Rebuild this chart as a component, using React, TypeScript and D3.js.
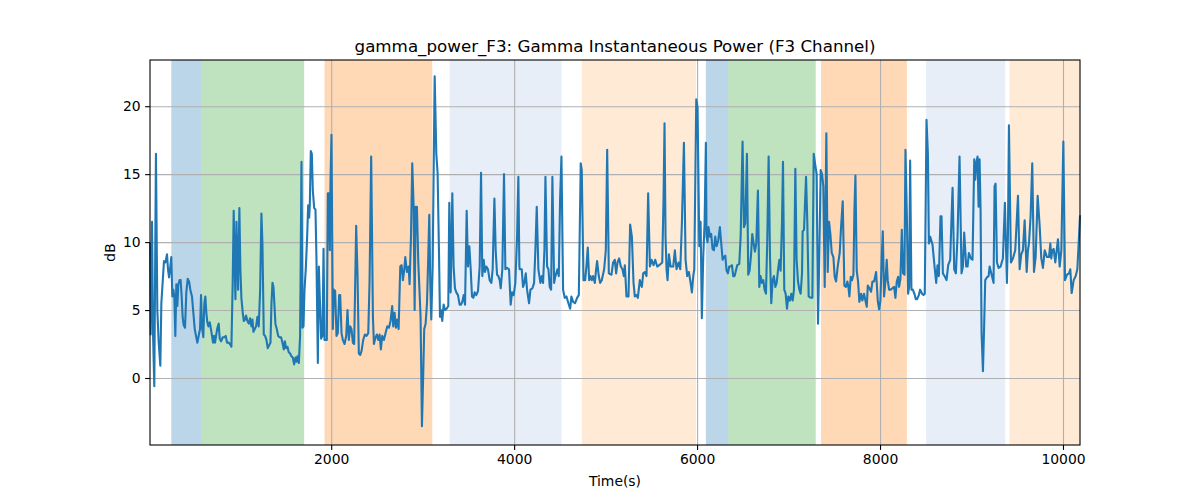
// Gamma instantaneous power trace (F3) with condition bands behind it.
// D3 computes scales, axes and the line path; React only hosts the <svg>.

import { useRef, useEffect } from "react";
import * as d3 from "d3";

const W = 1200;
const H = 500;
const MARGIN = { top: 60, right: 120, bottom: 55, left: 150 };

// ─── Data (time in s, power in dB) ───────────────────────────────────────────

const TIME_A = [
  19, 26, 41, 52, 66, 84, 99, 114, 132, 143, 157, 172, 187, 205, 216, 227, 238, 252, 263, 274,
  285, 296, 307, 318, 329, 343, 354, 365, 376, 387, 402, 416, 431, 446, 460, 478, 493, 508, 522, 537,
  551, 566, 577, 588, 602, 613, 624, 635, 646, 657, 672, 683, 697, 708, 719, 730, 741, 756, 770, 781,
  796, 814, 832, 847, 861, 880, 894, 909, 923, 934, 945, 953, 964, 974, 982, 996, 1007, 1018, 1033, 1044,
  1058, 1069, 1084, 1099, 1113, 1128, 1139, 1150, 1164, 1179, 1193, 1208, 1223, 1237, 1248, 1263, 1277, 1292, 1306, 1321,
  1336, 1347, 1358, 1369, 1380, 1390, 1405, 1420, 1434, 1452, 1467, 1482, 1493, 1507, 1522, 1536, 1551, 1565, 1580, 1595,
  1609, 1620, 1631, 1646, 1660, 1675, 1686, 1697, 1708, 1722, 1737, 1748, 1759, 1766, 1777, 1788, 1799, 1814, 1828, 1839,
  1854, 1865, 1876, 1890, 1905, 1916, 1927, 1941, 1952, 1963, 1974, 1985, 1992, 2003, 2018, 2029, 2043, 2058, 2072, 2087,
];
const DB_A = [
  9.9, 3.2, 11.5, 3.3, -0.6, 16.5, 5.0, 2.6, 0.9, 5.5, 7.0, 8.6, 8.5, 9.1, 8.0, 7.4, 8.0, 8.9, 6.0, 6.5,
  6.0, 3.1, 6.9, 5.3, 6.9, 7.2, 7.2, 6.0, 4.5, 3.9, 3.7, 6.3, 7.3, 7.1, 6.5, 6.0, 4.8, 3.6, 3.1, 2.6,
  3.1, 3.6, 6.1, 3.7, 3.0, 5.5, 6.0, 4.8, 4.1, 3.8, 4.1, 3.7, 3.1, 2.6, 3.1, 2.6, 3.1, 3.7, 4.0, 2.9,
  2.7, 3.0, 3.0, 3.1, 2.6, 2.6, 2.5, 2.3, 7.0, 12.3, 8.2, 5.8, 11.5, 8.5, 6.5, 12.5, 8.0, 5.9, 4.8, 4.2,
  4.3, 4.6, 4.2, 4.0, 4.4, 3.8, 4.3, 3.4, 3.6, 3.8, 4.5, 3.8, 6.5, 12.1, 9.9, 3.2, 3.1, 2.8, 2.2, 2.4,
  2.6, 5.5, 7.0, 6.7, 5.3, 4.0, 3.6, 3.1, 3.0, 3.0, 2.6, 2.1, 2.7, 2.2, 2.3, 1.9, 1.8, 1.6, 1.5, 1.0,
  1.5, 1.2, 1.6, 1.1, 3.1, 15.9, 3.7, 3.8, 6.5, 8.0, 10.4, 12.7, 11.8, 12.7, 16.7, 16.5, 13.8, 12.5, 12.4, 8.7,
  1.1, 8.2, 5.8, 2.9, 3.1, 9.5, 2.8, 2.8, 2.8, 13.6, 13.6, 9.4, 14.3, 17.9, 3.6, 6.5, 6.4, 3.1, 3.3, 6.1,
];

const TIME_B = [
  2098, 2113, 2127, 2146, 2164, 2178, 2193, 2208, 2222, 2237, 2251, 2273, 2288, 2302, 2317, 2332, 2350, 2368, 2386, 2405,
  2419, 2437, 2456, 2467, 2481, 2499, 2514, 2529, 2543, 2558, 2576, 2594, 2613, 2631, 2649, 2667, 2678, 2693, 2707, 2722,
  2737, 2755, 2769, 2784, 2799, 2810, 2828, 2846, 2857, 2872, 2886, 2901, 2912, 2923, 2937, 2952, 2966, 2977, 2992, 3007,
  3017, 3032, 3047, 3061, 3072, 3083, 3094, 3109, 3131, 3149, 3163, 3178, 3189, 3200, 3214, 3229, 3244, 3262, 3280, 3291,
  3306, 3324, 3338, 3353, 3368, 3386, 3404, 3419, 3433, 3448, 3463, 3481, 3495, 3510, 3525, 3539, 3554, 3568, 3586, 3605,
  3623, 3638, 3652, 3667, 3681, 3696, 3714, 3732, 3751, 3765, 3784, 3798, 3813, 3827, 3842, 3853, 3871, 3889, 3904, 3922,
  3944, 3962, 3977, 3995, 4013, 4032, 4046, 4057,
];
const DB_B = [
  6.1, 3.3, 2.8, 2.5, 3.1, 5.0, 2.8, 3.8, 3.6, 2.6, 2.5, 11.2, 7.5, 1.8, 1.7, 2.0, 2.8, 3.2, 3.1, 3.3,
  7.0, 16.3, 4.5, 2.5, 2.9, 3.2, 2.8, 3.2, 2.1, 3.1, 2.8, 3.3, 3.8, 3.7, 4.2, 5.3, 3.8, 4.8, 3.7, 4.3,
  3.6, 8.2, 8.3, 7.2, 8.0, 8.9, 7.8, 8.2, 6.9, 10.4, 15.8, 12.6, 5.0, 12.6, 12.6, 8.5, 6.3, 4.5, -3.55, 0.6,
  3.6, 4.0, 5.5, 8.9, 12.0, 7.0, 4.3, 8.2, 22.2, 16.5, 15.1, 9.4, 4.5, 5.0, 4.2, 5.4, 5.0, 5.1, 5.3, 12.9,
  6.3, 13.6, 8.2, 6.6, 6.3, 6.1, 5.4, 5.4, 5.6, 6.1, 5.4, 12.3, 8.2, 9.7, 8.0, 6.0, 5.9, 6.3, 6.1, 6.4,
  8.2, 15.1, 7.5, 8.7, 7.8, 8.2, 8.0, 7.2, 7.0, 8.0, 13.2, 9.4, 7.6, 7.5, 7.2, 6.6, 8.0, 15.0, 8.0, 8.1,
  8.0, 5.4, 6.3, 6.1, 7.0, 10.4, 14.8, 8.2,
];

const TIME_C = [
  4061, 4083, 4097, 4112, 4127, 4141, 4163, 4178, 4200, 4218, 4232, 4247, 4265, 4287, 4302, 4316, 4331, 4342, 4360, 4375,
  4389, 4404, 4418, 4437, 4451, 4473, 4488, 4502, 4517, 4535, 4553, 4572, 4593, 4612, 4626, 4645, 4666, 4688, 4707, 4728,
  4739, 4758, 4776, 4790, 4805, 4820, 4834, 4849, 4863, 4882, 4896, 4907, 4925, 4940, 4958, 4984, 5002, 5017, 5035, 5064,
  5082, 5100, 5115, 5130, 5148, 5166, 5184, 5199, 5210, 5228, 5250, 5268, 5287, 5305, 5319, 5338, 5352, 5374, 5396, 5411,
  5429, 5447, 5465, 5484, 5502, 5524, 5542, 5564, 5586, 5619, 5633, 5644, 5655, 5666, 5677, 5692, 5710, 5739, 5757, 5775,
  5797, 5816, 5834, 5856, 5874, 5892, 5910, 5929, 5943, 5958, 5969, 5991, 6005, 6024,
];
const DB_C = [
  8.0, 8.0, 6.7, 7.0, 7.7, 6.5, 5.5, 6.5, 6.6, 7.0, 9.4, 12.6, 8.0, 7.0, 7.5, 7.0, 9.4, 14.8, 8.2, 8.0,
  6.7, 6.5, 14.8, 7.0, 7.5, 8.0, 7.5, 13.1, 16.3, 6.5, 5.9, 6.0, 5.5, 5.1, 6.0, 5.6, 5.5, 5.9, 6.1, 15.8,
  15.3, 7.2, 7.2, 8.2, 9.6, 7.2, 7.5, 7.2, 7.5, 7.0, 8.0, 8.6, 7.5, 7.0, 7.2, 8.0, 9.4, 16.8, 7.7, 7.6,
  8.5, 8.7, 7.7, 8.5, 8.8, 8.2, 8.0, 7.5, 8.3, 6.0, 6.0, 11.3, 10.4, 7.0, 6.0, 6.1, 5.9, 7.2, 6.7, 7.7,
  7.8, 7.5, 13.6, 8.2, 8.7, 8.3, 8.7, 8.2, 8.3, 8.5, 13.1, 18.75, 10.4, 8.0, 7.2, 9.1, 8.2, 8.2, 9.4, 8.0,
  8.5, 8.0, 11.4, 17.3, 8.7, 7.5, 7.8, 7.0, 6.3, 7.5, 8.0, 20.5, 19.9, 9.7,
];

const TIME_D = [
  6027, 6038, 6052, 6067, 6082, 6096, 6103, 6114, 6125, 6140, 6154, 6169, 6184, 6198, 6213, 6231, 6249, 6264, 6279, 6293,
  6308, 6322, 6337, 6351, 6366, 6381, 6395, 6410, 6424, 6439, 6461, 6476, 6497, 6512, 6527, 6545, 6559, 6574, 6589, 6603,
  6618, 6632, 6647, 6665, 6680, 6694, 6709, 6724, 6738, 6753, 6767, 6782, 6797, 6811, 6826, 6840, 6855, 6870, 6884, 6899,
  6913, 6928, 6939, 6953, 6968, 6983, 6997, 7015, 7030, 7045, 7059, 7074, 7088, 7103, 7118, 7132, 7147, 7154, 7169, 7191,
  7205, 7220, 7243, 7260, 7275, 7289, 7307, 7322, 7337, 7351, 7366, 7380, 7395, 7413, 7428, 7442, 7457, 7472, 7490, 7504,
  7519, 7537, 7559, 7574, 7592, 7610, 7628, 7643, 7654, 7665, 7680, 7694, 7709, 7720, 7731, 7745, 7760, 7774, 7793, 7807,
  7825, 7840, 7855, 7866, 7884, 7902, 7917, 7935, 7957, 7975, 7990, 8004, 8019, 8030, 8044, 8059, 8073, 8084, 8099, 8117,
  8135, 8154, 8168, 8183, 8198, 8208, 8223, 8238, 8252, 8267, 8278, 8292, 8307, 8318, 8329, 8343, 8358, 8376, 8391, 8405,
  8424, 8438, 8460, 8475, 8489,
];
const DB_D = [
  11.4, 11.5, 4.4, 8.9, 11.4, 17.3, 10.4, 10.0, 11.1, 10.4, 10.6, 9.5, 9.4, 10.4, 9.7, 10.1, 11.1, 9.9, 8.7, 8.9,
  9.0, 7.9, 7.7, 8.2, 8.2, 8.3, 7.5, 7.5, 7.9, 8.3, 8.4, 10.4, 17.4, 11.1, 11.4, 16.5, 7.6, 7.9, 9.0, 10.6,
  9.9, 9.3, 9.9, 13.8, 6.7, 7.5, 7.0, 7.2, 6.5, 6.2, 10.1, 16.3, 8.9, 5.5, 7.2, 7.5, 6.7, 7.0, 7.9, 8.7,
  7.9, 11.4, 15.9, 6.5, 6.2, 5.1, 6.0, 5.7, 6.2, 5.7, 6.5, 15.4, 8.7, 7.1, 6.5, 6.2, 7.7, 10.8, 10.9, 14.8,
  11.4, 6.0, 5.9, 5.9, 16.5, 15.8, 15.0, 4.0, 9.4, 15.3, 15.0, 14.1, 6.7, 18.0, 7.8, 11.5, 10.6, 9.2, 8.9, 7.45,
  7.1, 8.2, 9.2, 11.1, 13.0, 6.8, 6.7, 7.1, 6.7, 6.0, 7.45, 7.2, 7.6, 12.35, 14.9, 7.9, 7.1, 5.6, 6.2, 5.7,
  6.2, 5.7, 5.25, 6.8, 6.6, 6.35, 7.1, 7.1, 7.8, 5.7, 5.05, 5.7, 8.9, 10.8, 6.0, 7.1, 8.7, 7.2, 6.5, 6.5,
  6.6, 6.7, 5.9, 7.1, 7.45, 6.7, 7.3, 10.9, 7.7, 7.6, 16.8, 12.35, 6.2, 6.7, 16.0, 6.5, 6.5, 6.2, 5.8, 5.8,
  6.1, 6.5, 6.2, 6.1, 6.2,
];

const TIME_E = [
  8508, 8523, 8534, 8548, 8574, 8596, 8614, 8628, 8643, 8661, 8672, 8687, 8705, 8727, 8745, 8767, 8782, 8793,
  8811, 8829, 8847, 8869, 8891, 8906, 8920, 8942, 8957, 8971, 8993, 9011, 9030, 9041, 9052, 9066, 9077, 9088, 9099, 9110,
  9125, 9136, 9150, 9168, 9187, 9198, 9216, 9241, 9252, 9263, 9278, 9296, 9318, 9343, 9365, 9387, 9398, 9409, 9431, 9453,
  9478, 9493, 9508, 9526, 9544, 9562, 9581, 9603, 9617, 9628, 9646, 9664, 9683, 9701, 9723, 9745, 9763, 9781, 9800, 9825,
  9847, 9862, 9872, 9883, 9898, 9916, 9931, 9945, 9964, 9982, 10004, 10022, 10044, 10066, 10080, 10095, 10117, 10139, 10157, 10175,
  10186,
];
const DB_E = [
  19.0, 16.5, 9.9, 10.4, 9.8, 8.2, 7.0, 8.3, 7.5, 11.9, 11.9, 7.7, 7.5, 7.2, 8.3, 8.7, 11.9, 14.0,
  8.0, 7.7, 10.4, 16.3, 7.7, 8.2, 10.7, 8.2, 8.2, 9.2, 8.8, 8.7, 16.1, 14.6, 15.8, 16.3, 12.6, 16.1, 12.4, 3.3,
  0.5, 3.3, 7.2, 7.4, 7.5, 8.2, 7.7, 7.0, 14.1, 14.3, 8.5, 8.1, 8.2, 8.8, 12.9, 7.0, 10.4, 18.6, 8.5, 8.8,
  9.4, 11.4, 13.4, 8.0, 9.1, 9.4, 11.6, 7.8, 9.4, 9.9, 11.9, 15.8, 7.8, 8.9, 13.4, 11.2, 8.8, 8.1, 9.4, 8.9,
  8.9, 9.9, 8.8, 9.4, 9.5, 8.5, 9.4, 10.2, 8.2, 9.4, 17.4, 7.2, 7.6, 7.7, 8.0, 6.25, 7.2, 7.5, 8.0, 10.4,
  11.9,
];

// shaded condition spans
const BAND_START = [252, 577, 1927, 3295, 4739, 6096, 6340, 7355, 8504, 9415];
const BAND_END = [577, 1704, 3105, 4517, 5987, 6340, 7297, 8293, 9369, 10186];
const BAND_COLOR = [
  "#1f77b4", "#2ca02c", "#ff7f0e", "#aec7e8", "#ffbb78",
  "#1f77b4", "#2ca02c", "#ff7f0e", "#aec7e8", "#ffbb78",
];

const X_TICKS = [2000, 4000, 6000, 8000, 10000];
const Y_TICKS = [0, 5, 10, 15, 20];
const Y_DOMAIN: [number, number] = [-4.93, 23.4];

const TITLE = "gamma_power_F3: Gamma Instantaneous Power (F3 Channel)";
const FONT = "'DejaVu Sans', sans-serif";

function PowerChart() {
  const svgRef = useRef<SVGSVGElement>(null);
  const innerW = W - MARGIN.left - MARGIN.right;
  const innerH = H - MARGIN.top - MARGIN.bottom;

  useEffect(() => {
    if (!svgRef.current) return;

    const times = [...TIME_A, ...TIME_B, ...TIME_C, ...TIME_D, ...TIME_E];
    const dbs = [...DB_A, ...DB_B, ...DB_C, ...DB_D, ...DB_E];
    const points = times.map((t, i) => [t, dbs[i]] as [number, number]);

    // ── Scales ──────────────────────────────────────────────────────────────
    const x = d3
      .scaleLinear()
      .domain(d3.extent(times) as [number, number])
      .range([0, innerW]);
    const y = d3.scaleLinear().domain(Y_DOMAIN).range([innerH, 0]);

    const svg = d3.select(svgRef.current);
    svg.selectAll("*").remove();

    svg.append("rect").attr("width", W).attr("height", H).attr("fill", "#fff");

    const g = svg
      .append("g")
      .attr("transform", `translate(${MARGIN.left},${MARGIN.top})`);

    // ── Bands ───────────────────────────────────────────────────────────────
    g.selectAll(".band")
      .data(BAND_START.map((s, i) => ({ s, e: BAND_END[i], c: BAND_COLOR[i] })))
      .enter()
      .append("rect")
      .attr("class", "band")
      .attr("x", (d) => x(d.s))
      .attr("y", 0)
      .attr("width", (d) => x(d.e) - x(d.s))
      .attr("height", innerH)
      .attr("fill", (d) => d.c)
      .attr("fill-opacity", 0.3);

    // ── Grid ────────────────────────────────────────────────────────────────
    g.append("g")
      .call(d3.axisBottom(x).tickValues(X_TICKS).tickSize(innerH).tickFormat(() => ""))
      .call((a) => a.select(".domain").remove())
      .call((a) => a.selectAll("line").attr("stroke", "#b0b0b0").attr("stroke-width", 1.1));
    g.append("g")
      .call(d3.axisLeft(y).tickValues(Y_TICKS).tickSize(-innerW).tickFormat(() => ""))
      .call((a) => a.select(".domain").remove())
      .call((a) => a.selectAll("line").attr("stroke", "#b0b0b0").attr("stroke-width", 1.1));

    // ── Line ────────────────────────────────────────────────────────────────
    const line = d3
      .line<[number, number]>()
      .x((d) => x(d[0]))
      .y((d) => y(d[1]));
    g.append("path")
      .datum(points)
      .attr("d", line)
      .attr("fill", "none")
      .attr("stroke", "#1f77b4")
      .attr("stroke-width", 2.1)
      .attr("stroke-linejoin", "round")
      .attr("stroke-linecap", "square");

    // ── Axes ────────────────────────────────────────────────────────────────
    const styleAxis = (a: d3.Selection<SVGGElement, unknown, null, undefined>) => {
      a.select(".domain").remove();
      a.selectAll("line").attr("stroke", "#000").attr("stroke-width", 1.1);
      a.selectAll("text")
        .attr("fill", "#000")
        .attr("font-family", FONT)
        .attr("font-size", 13.9);
    };
    g.append("g")
      .attr("transform", `translate(0,${innerH})`)
      .call(
        d3.axisBottom(x).tickValues(X_TICKS).tickSize(4.9).tickPadding(4.5).tickFormat(d3.format("d"))
      )
      .call(styleAxis);
    g.append("g")
      .call(d3.axisLeft(y).tickValues(Y_TICKS).tickSize(4.9).tickPadding(4.5).tickFormat(d3.format("d")))
      .call(styleAxis);

    // spines
    g.append("rect")
      .attr("width", innerW)
      .attr("height", innerH)
      .attr("fill", "none")
      .attr("stroke", "#000")
      .attr("stroke-width", 1.1);

    // ── Labels ──────────────────────────────────────────────────────────────
    svg.append("text")
      .attr("x", MARGIN.left + innerW / 2)
      .attr("y", 52)
      .attr("text-anchor", "middle")
      .attr("font-family", FONT)
      .attr("font-size", 16.7)
      .text(TITLE);
    svg.append("text")
      .attr("x", MARGIN.left + innerW / 2)
      .attr("y", 486)
      .attr("text-anchor", "middle")
      .attr("font-family", FONT)
      .attr("font-size", 13.9)
      .text("Time(s)");
    svg.append("text")
      .attr("transform", `translate(115,${MARGIN.top + innerH / 2}) rotate(-90)`)
      .attr("text-anchor", "middle")
      .attr("font-family", FONT)
      .attr("font-size", 13.9)
      .text("dB");
  }, [innerW, innerH]);

  return (
    <svg
      ref={svgRef}
      width={W}
      height={H}
      style={{ position: "absolute", left: 0, top: 0, display: "block" }}
    />
  );
}

export default function App() {
  return <PowerChart />;
}
